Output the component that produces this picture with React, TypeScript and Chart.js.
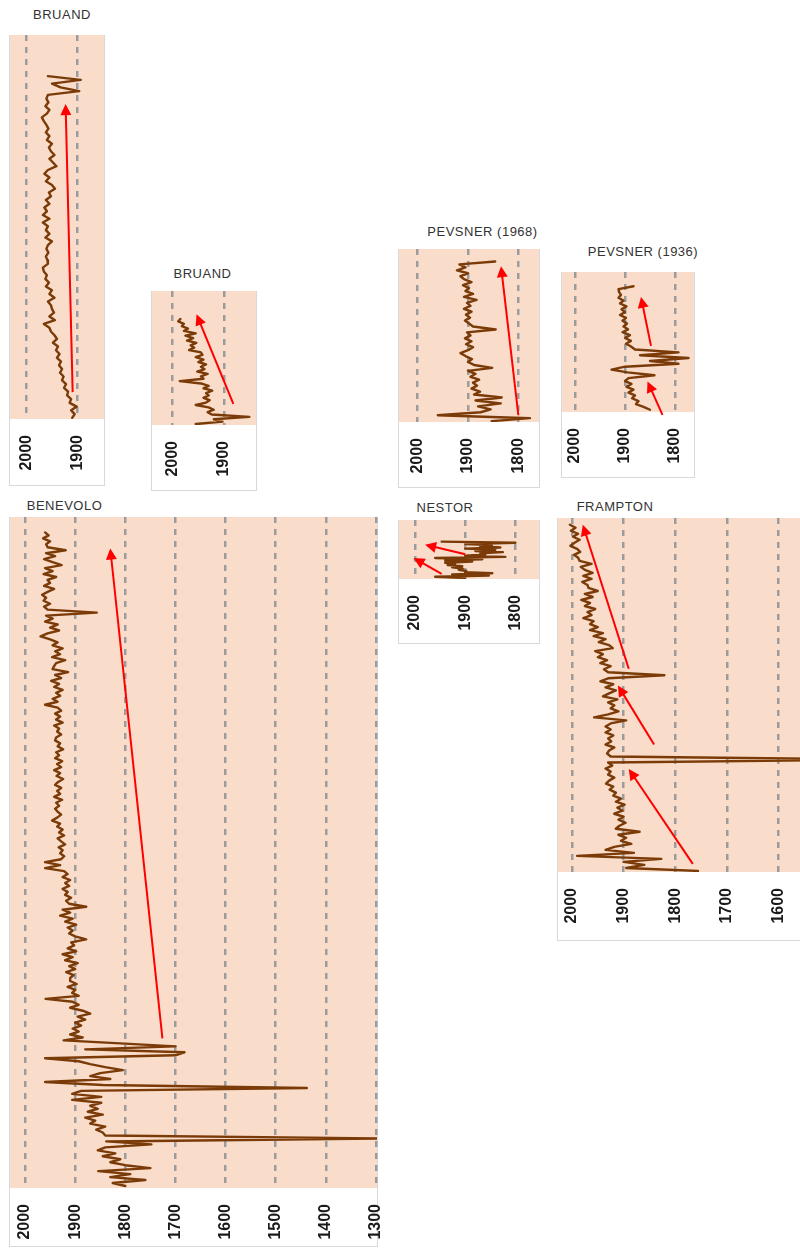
import React, { useEffect, useRef } from "react";
import { Chart, registerables } from "chart.js";

Chart.register(...registerables);

// ---------------- data (years, read top → bottom) ----------------
const bruandAYears = [
  1958, 1893, 1950, 1933, 1896, 1958,
  1961, 1957, 1963, 1955, 1960,
  1970, 1966,
  1961, 1957, 1962,
  1955, 1960, 1950, 1956,
  1952, 1945, 1955, 1948, 1941,
  1958, 1965, 1955, 1962,
  1950, 1944, 1956, 1952,
  1962, 1955, 1965, 1960,
  1968, 1955, 1968,
  1958, 1962, 1955, 1963, 1950, 1958, 1961,
  1957, 1962, 1959,
  1958, 1968, 1966, 1960, 1963,
  1956, 1962, 1950, 1955, 1945, 1958, 1952,
  1950, 1946, 1955, 1944, 1966, 1955,
  1952, 1945, 1940, 1948, 1938,
  1942, 1935, 1940, 1932,
  1936, 1930, 1934, 1927,
  1930, 1922, 1926, 1918,
  1920, 1912, 1915,
  1901, 1912, 1905, 1910,
];
const bruandATicks = [2000, 1900];
const bruandAArrows = [[1909, 0.93, 1923, 0.18]];

const bruandBYears = [
  1985, 1989, 1978,
  1982, 1970, 1978, 1955, 1975, 1960, 1972, 1954,
  1965, 1958, 1968, 1945, 1942,
  1955, 1940, 1950, 1935, 1945,
  1938, 1952, 1932, 1945, 1940,
  1986,
  1945, 1930, 1940, 1923, 1935,
  1930, 1940, 1928, 1935, 1955,
  1930, 1920, 1932,
  1924, 1851, 1920, 1903, 1955,
];
const bruandBTicks = [2000, 1900];
const bruandBArrows = [[1882, 0.843, 1953.5, 0.174]];

const pevsner1968Years = [
  1846, 1917,
  1905, 1922, 1900, 1915,
  1908, 1893, 1910, 1898,
  1905, 1890, 1908, 1883,
  1902, 1895, 1908, 1893, 1904, 1896, 1906,
  1898, 1890, 1845, 1902,
  1895, 1906, 1893, 1904, 1890, 1900, 1915,
  1905, 1892, 1900, 1888,
  1852,
  1900, 1885, 1895, 1878, 1890,
  1882, 1893, 1876, 1888,
  1833, 1885, 1835, 1880, 1855, 1875, 1960,
  1777, 1853,
];
const pevsner1968Ticks = [2000, 1900, 1800];
const pevsner1968Arrows = [[1800, 0.961, 1834.4, 0.1]];

const pevsner1936Years = [
  1883, 1913,
  1912, 1908, 1913, 1903, 1910, 1897,
  1907, 1900, 1910, 1898, 1905, 1896,
  1903, 1894, 1905, 1890, 1900, 1888, 1898,
  1888, 1880,
  1793, 1870, 1773, 1850, 1793, 1900,
  1927, 1895, 1841, 1893,
  1900, 1887, 1897, 1883, 1893, 1880,
  1886, 1873, 1878, 1863, 1850,
];
const pevsner1936Ticks = [2000, 1900, 1800];
const pevsner1936Arrows = [
  [1848, 0.528, 1868, 0.178],
  [1825, 1.02, 1855, 0.782],
];

const benevoloYears = [
  1960, 1953, 1964, 1950, 1958, 1955,
  1919,
  1958, 1940, 1962, 1945, 1927,
  1960, 1945, 1963, 1938, 1955, 1950,
  1962, 1942, 1955, 1966,
  1958, 1963, 1950, 1962, 1955,
  1857,
  1958, 1945, 1960, 1935, 1950, 1932, 1955, 1969,
  1950, 1935, 1945, 1925, 1940, 1930, 1946, 1920, 1938, 1942,
  1945, 1914, 1940, 1928, 1948, 1932, 1942, 1925, 1938, 1930, 1945, 1935, 1960,
  1935, 1928, 1940, 1930, 1938, 1925, 1942, 1932, 1936, 1928, 1938,
  1940, 1930, 1935, 1924, 1938, 1932, 1940, 1926, 1936, 1928, 1942, 1930, 1937, 1924,
  1934, 1940, 1928, 1936, 1930, 1942, 1926, 1938, 1932, 1940, 1935, 1928, 1936,
  1946,
  1930, 1936, 1925, 1932, 1922, 1935, 1928, 1920, 1933, 1925, 1930, 1922, 1928,
  1960, 1930, 1960,
  1922, 1915, 1925, 1910, 1920, 1912, 1925, 1915, 1920, 1908, 1918, 1912,
  1878,
  1925, 1910, 1930, 1905, 1920, 1898, 1915, 1905, 1912, 1900, 1878, 1908, 1902,
  1915, 1898, 1925, 1905, 1920, 1895, 1912, 1900, 1918, 1903, 1910,
  1910, 1897, 1915, 1900, 1906, 1893, 1959,
  1905, 1893, 1910, 1885, 1870, 1895, 1880, 1900, 1888, 1905, 1893, 1910, 1885,
  1923, 1810, 1700, 1880, 1682, 1700, 1960,
  1893, 1870, 1840, 1805, 1850,
  1870, 1830, 1960, 1845,
  1438,
  1888, 1906, 1848, 1906, 1848, 1870,
  1855, 1875, 1845, 1880, 1860, 1870, 1840, 1858, 1845, 1840,
  1290, 1838, 1748, 1840,
  1855, 1820, 1845, 1810, 1830,
  1800, 1750, 1854,
  1790, 1830, 1760, 1825, 1800,
];
const benevoloTicks = [2000, 1900, 1800, 1700, 1600, 1500, 1400, 1300];
const benevoloArrows = [[1726, 0.777, 1830, 0.047]];

const nestorYears = [
  1947, 1800, 1900, 1847, 1870, 1830, 1900, 1840, 1880, 1825,
  1870, 1860, 1900, 1820, 1960, 1866, 1940, 1886, 1940, 1920,
  1935, 1906, 1926, 1905, 1913, 1898, 1900, 1846, 1926, 1853,
  1960, 1900,
];
const nestorTicks = [2000, 1900, 1800];
const nestorArrows = [
  [1900, 0.58, 1980, 0.42],
  [1947, 0.915, 2003, 0.645],
];

const framptonYears = [
  2004, 1993, 2002, 1988, 1998, 1985, 1995, 2003, 1990, 1984, 1996, 1988,
  1985, 1962, 1983, 1975, 1960, 1978, 1962, 1980, 1970, 1968, 1950,
  1975, 1960, 1982, 1965, 1975, 1955, 1970, 1962, 1978, 1958, 1965,
  1950, 1965, 1940, 1958, 1935, 1948, 1928, 1921,
  1955, 1940, 1950, 1932, 1945, 1925, 1938, 1930,
  1821,
  1930, 1945, 1920, 1935, 1915, 1928, 1940, 1912, 1930, 1918, 1925, 1910,
  1930, 1957, 1895, 1925, 1935,
  1925, 1935, 1920, 1930, 1924, 1935, 1918, 1928, 1932, 1925,
  1400,
  1930, 1922, 1935, 1925, 1930, 1918, 1928, 1934, 1920, 1927, 1915,
  1920, 1905, 1915, 1898, 1912, 1902, 1918, 1900, 1910, 1896, 1908,
  1915, 1869, 1910, 1895, 1905, 1885, 1918,
  1935, 1880, 1990, 1827, 1900, 1860, 1895, 1756,
];
const framptonTicks = [2000, 1900, 1800, 1700, 1600, 1500];
const framptonArrows = [
  [1890, 0.426, 1979, 0.019],
  [1841, 0.64, 1911, 0.473],
  [1766, 0.977, 1890, 0.709],
];

// ---------------- styles ----------------
const BROWN = "#7b3b08";
const RED = "#ff0000";
const PEACH = "#f9ddca";
const GRID = "#9c9c9c";

type PanelCfg = {
  title: string;
  titleX: number;
  titleY: number;
  left: number;
  top: number;
  width: number;
  extraRight: number;
  plotH: number;
  axisH: number;
  xMin: number;
  xMax: number;
  lineTop: number;
  lineBottom: number;
  years: number[];
  ticks: number[];
  arrows: number[][];
};

const panels: PanelCfg[] = [
  { title: "BRUAND", titleX: 62, titleY: 14.5, left: 10, top: 35, width: 94, extraRight: 0, plotH: 384, axisH: 66, xMin: 1847, xMax: 2033, lineTop: 0.107, lineBottom: 0.997, years: bruandAYears, ticks: bruandATicks, arrows: bruandAArrows },
  { title: "BRUAND", titleX: 202.5, titleY: 274, left: 152, top: 291, width: 104, extraRight: 0, plotH: 134, axisH: 65, xMin: 1838, xMax: 2040, lineTop: 0.209, lineBottom: 0.993, years: bruandBYears, ticks: bruandBTicks, arrows: bruandBArrows },
  { title: "PEVSNER (1968)", titleX: 482.5, titleY: 232, left: 399, top: 249, width: 140, extraRight: 0, plotH: 173, axisH: 65, xMin: 1759, xMax: 2037, lineTop: 0.072, lineBottom: 0.995, years: pevsner1968Years, ticks: pevsner1968Ticks, arrows: pevsner1968Arrows },
  { title: "PEVSNER (1936)", titleX: 643, titleY: 252, left: 562, top: 272, width: 132, extraRight: 0, plotH: 140, axisH: 65, xMin: 1762, xMax: 2026, lineTop: 0.102, lineBottom: 0.984, years: pevsner1936Years, ticks: pevsner1936Ticks, arrows: pevsner1936Arrows },
  { title: "BENEVOLO", titleX: 64.5, titleY: 505.5, left: 10, top: 517, width: 367, extraRight: 10, plotH: 671, axisH: 58, xMin: 1298, xMax: 2030, lineTop: 0.023, lineBottom: 0.997, years: benevoloYears, ticks: benevoloTicks, arrows: benevoloArrows },
  { title: "NESTOR", titleX: 445, titleY: 507.5, left: 399, top: 520, width: 140, extraRight: 0, plotH: 59, axisH: 64, xMin: 1753, xMax: 2032, lineTop: 0.366, lineBottom: 0.983, years: nestorYears, ticks: nestorTicks, arrows: nestorArrows },
  { title: "FRAMPTON", titleX: 615, titleY: 507, left: 558, top: 518, width: 298, extraRight: 0, plotH: 354, axisH: 68, xMin: 1450, xMax: 2027, lineTop: 0.019, lineBottom: 0.997, years: framptonYears, ticks: framptonTicks, arrows: framptonArrows },
];

const bgPlugin = {
  id: "plotBg",
  beforeDraw(chart: any) {
    const { ctx, chartArea } = chart;
    if (!chartArea) return;
    ctx.save();
    ctx.fillStyle = PEACH;
    ctx.fillRect(chartArea.left, chartArea.top, chartArea.right - chartArea.left, chartArea.bottom - chartArea.top);
    ctx.restore();
  },
};

const arrowPlugin = {
  id: "arrows",
  afterDatasetsDraw(chart: any) {
    const arrows: number[][] = chart.options.plugins.arrows?.list || [];
    const xs = chart.scales.x;
    const ys = chart.scales.ya;
    const ctx = chart.ctx;
    arrows.forEach((a) => {
      const x0 = xs.getPixelForValue(a[0]);
      const y0 = ys.getPixelForValue(a[1]);
      const x1 = xs.getPixelForValue(a[2]);
      const y1 = ys.getPixelForValue(a[3]);
      const ang = Math.atan2(y1 - y0, x1 - x0);
      const L = 11;
      const W = 5.5;
      const bx = x1 - L * Math.cos(ang);
      const by = y1 - L * Math.sin(ang);
      ctx.save();
      ctx.strokeStyle = RED;
      ctx.fillStyle = RED;
      ctx.lineWidth = 2;
      ctx.beginPath();
      ctx.moveTo(x0, y0);
      ctx.lineTo(bx + 2 * Math.cos(ang), by + 2 * Math.sin(ang));
      ctx.stroke();
      ctx.beginPath();
      ctx.moveTo(x1, y1);
      ctx.lineTo(bx + W * Math.sin(ang), by - W * Math.cos(ang));
      ctx.lineTo(bx - W * Math.sin(ang), by + W * Math.cos(ang));
      ctx.closePath();
      ctx.fill();
      ctx.restore();
    });
  },
};

function Panel({ cfg }: { cfg: PanelCfg }) {
  const ref = useRef<HTMLCanvasElement | null>(null);
  const h = cfg.plotH + cfg.axisH;
  const cw = cfg.width + cfg.extraRight;
  useEffect(() => {
    if (!ref.current) return;
    const n = cfg.years.length;
    const span = (n - 1) / (cfg.lineBottom - cfg.lineTop);
    const yMin = -cfg.lineTop * span;
    const yMax = yMin + span;
    const chart = new Chart(ref.current, {
      type: "scatter",
      data: {
        datasets: [
          {
            data: cfg.years.map((v, i) => ({ x: v, y: i })),
            showLine: true,
            borderColor: BROWN,
            backgroundColor: BROWN,
            borderWidth: 2.4,
            pointRadius: 0,
            borderJoinStyle: "round",
            borderCapStyle: "round",
            yAxisID: "y",
          } as any,
        ],
      },
      options: {
        animation: false,
        responsive: false,
        devicePixelRatio: 1,
        events: [],
        layout: { padding: { left: 0, top: 0, bottom: 0, right: cfg.extraRight } },
        plugins: {
          legend: { display: false },
          tooltip: { enabled: false },
          arrows: { list: cfg.arrows },
        } as any,
        scales: {
          x: {
            type: "linear",
            position: "bottom",
            reverse: true,
            min: cfg.xMin,
            max: cfg.xMax,
            afterBuildTicks: (s: any) => {
              s.ticks = cfg.ticks.map((v) => ({ value: v }));
            },
            afterFit: (s: any) => {
              s.height = cfg.axisH;
              s.paddingLeft = 0;
              s.paddingRight = 0;
            },
            ticks: {
              autoSkip: false,
              minRotation: 90,
              maxRotation: 90,
              padding: 16,
              color: "#1a1a1a",
              font: { family: "'Liberation Sans', Arial, sans-serif", size: 16, weight: "bold" },
              callback: (v: any) => String(v),
            },
            grid: { color: GRID, lineWidth: 2.5, drawTicks: false },
            border: { display: false, dash: [6, 6] },
          },
          y: { type: "linear", display: false, reverse: true, min: yMin, max: yMax },
          ya: { type: "linear", display: false, reverse: true, min: 0, max: 1 },
        },
      } as any,
      plugins: [bgPlugin, arrowPlugin],
    });
    return () => chart.destroy();
  }, [cfg]);

  return (
    <>
      <div
        style={{
          position: "absolute",
          left: cfg.titleX,
          top: cfg.titleY,
          transform: "translate(-50%, -50%)",
          whiteSpace: "nowrap",
          fontFamily: "'Liberation Sans', Arial, sans-serif",
          fontSize: 13,
          letterSpacing: 0.5,
          color: "#333333",
          lineHeight: "16px",
        }}
      >
        {cfg.title}
      </div>
      <div
        style={{
          position: "absolute",
          left: cfg.left - 1,
          top: cfg.top,
          width: cfg.width + 2,
          height: h + 1,
          border: "1px solid #d9d9d9",
          boxSizing: "border-box",
          background: "#ffffff",
        }}
      />
      <canvas
        ref={ref}
        width={cw}
        height={h}
        style={{ position: "absolute", left: cfg.left, top: cfg.top, width: cw, height: h }}
      />
    </>
  );
}

export default function App() {
  return (
    <div
      style={{
        position: "absolute",
        left: 0,
        top: 0,
        width: 800,
        height: 1248,
        overflow: "hidden",
        background: "#ffffff",
      }}
    >
      {panels.map((p, i) => (
        <Panel key={i} cfg={p} />
      ))}
    </div>
  );
}
